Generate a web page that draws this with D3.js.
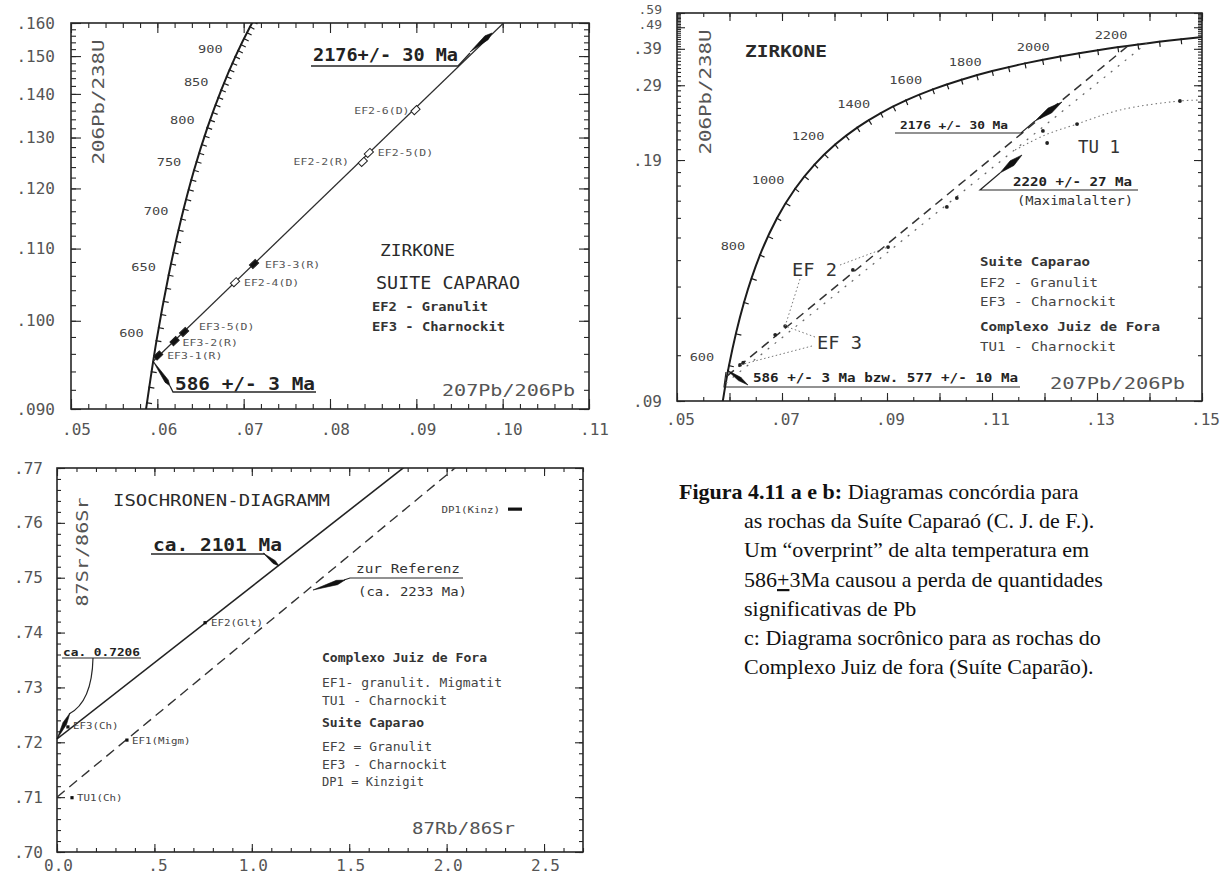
<!DOCTYPE html>
<html><head><meta charset="utf-8">
<script src="https://cdn.jsdelivr.net/npm/d3@7/dist/d3.min.js"></script>
<style>html,body{margin:0;padding:0;background:#fff}svg{display:block}</style>
</head><body>
<script>
// ================= DATA =================
// ---- Panel a : concordia, Suite Caparao ----
const aXTickValues=[0.05,0.06,0.07,0.08,0.09,0.10,0.11];
const aXTickLabels=[".05",".06",".07",".08",".09",".10",".11"];
const aYTickValues=[0.09,0.10,0.11,0.12,0.13,0.14,0.15,0.16];
const aYTickLabels=[".090",".100",".110",".120",".130",".140",".150",".160"];
const aConcAge=[550,600,650,700,750,800,850,900,950,1000];
const aConcPb76=[0.05854,0.05990,0.06131,0.06276,0.06425,0.06580,0.06740,0.06904,0.07074,0.07250];
const aConcPb68=[0.08906,0.09754,0.10609,0.11470,0.12338,0.13213,0.14094,0.14983,0.15878,0.16780];
const aAgeLabels=[600,650,700,750,800,850,900];
const aInterceptAge=[586,2176];
const aInterceptPb76=[0.05952,0.13593];
const aInterceptPb68=[0.09516,0.40151];
const aSampleName=["EF2-6(D)","EF2-2(R)","EF2-5(D)","EF3-3(R)","EF2-4(D)","EF3-5(D)","EF3-2(R)","EF3-1(R)"];
const aSamplePb76=[0.0899,0.0838,0.0845,0.0712,0.0690,0.0631,0.0620,0.0601];
const aSamplePb68=[0.1361,0.1250,0.1268,0.1077,0.1051,0.0986,0.0975,0.0958];
const aUpperErrPb76=[0.09622,0.09877], aUpperErrPb68=[0.15117,0.15684];
const aLowerErrPb76=[0.05950,0.06147], aLowerErrPb68=[0.09517,0.09240];

// ---- Panel b : concordia, Suite Caparao + Juiz de Fora ----
const bXTickValues=[0.05,0.07,0.09,0.11,0.13,0.15];
const bXTickLabels=[".05",".07",".09",".11",".13",".15"];
const bYTickValues=[0.09,0.19,0.29,0.39,0.49,0.59];
const bYTickLabels=[".09",".19",".29",".39",".49",".59"];
const bConcAge=[500,600,700,800,900,1000,1100,1200,1300,1400,1500,1600,1700,1800,1900,2000,2100,2200,2300,2400];
const bConcPb76=[0.05722,0.05990,0.06276,0.06580,0.06904,0.07250,0.07619,0.08012,0.08432,0.08881,0.09360,0.09872,0.10419,0.11004,0.11629,0.12299,0.13015,0.13782,0.14603,0.15483];
const bConcPb68=[0.08065,0.09754,0.11470,0.13213,0.14983,0.16780,0.18606,0.20460,0.22344,0.24256,0.26199,0.28172,0.30175,0.32211,0.34277,0.36377,0.38509,0.40674,0.42873,0.45107];
const bAgeLabels=[600,800,1000,1200,1400,1600,1800,2000,2200];
const bDisc1Pb76=[0.05952,0.13593], bDisc1Pb68=[0.09516,0.40151];   // 586 -> 2176 Ma
const bDisc2Pb76=[0.05927,0.13942], bDisc2Pb68=[0.09364,0.41111];   // 577 -> 2220 Ma
const bEFPb76=[0.0620,0.0626,0.0687,0.0706,0.0835,0.0902,0.1014,0.1033];
const bEFPb68=[0.0977,0.0982,0.1052,0.1076,0.1261,0.1356,0.1562,0.1617];
const bTUPb76=[0.1197,0.1205,0.1262,0.1458];
const bTUPb68=[0.2194,0.2062,0.2278,0.2611];
const bTUCurvePb76=[0.1144,0.1201,0.1262,0.1344,0.1458,0.1500];
const bTUCurvePb68=[0.1992,0.2148,0.2278,0.2470,0.2611,0.2627];
const bUp1ErrPb76=[0.11819,0.12333], bUp1ErrPb68=[0.2317,0.2594];
const bUp2ErrPb76=[0.11152,0.11571], bUp2ErrPb68=[0.1793,0.1945];
const bLowErrPb76=[0.05952,0.06352], bLowErrPb68=[0.09654,0.09327];

// ---- Panel c : Rb-Sr isochron ----
const cXTickValues=[0,0.5,1.0,1.5,2.0,2.5];
const cXTickLabels=["0.0",".5","1.0","1.5","2.0","2.5"];
const cYTickValues=[0.70,0.71,0.72,0.73,0.74,0.75,0.76,0.77];
const cYTickLabels=[".70",".71",".72",".73",".74",".75",".76",".77"];
const cIsoIntercept=[0.7206,0.7100];   // ca. 2101 Ma (solid), reference ca. 2233 Ma (dashed)
const cIsoSlope=[0.0278,0.02937];
const cSampleName=["EF2(Glt)","EF3(Ch)","EF1(Migm)","TU1(Ch)","DP1(Kinz)"];
const cSampleRb=[0.76,0.056,0.359,0.077,2.351];
const cSampleSr=[0.7418,0.7228,0.7204,0.7099,0.7625];
const c2101ErrRb=[1.0575,1.1396], c2101ErrSr=[0.75451,0.75214];
const cIntErrRb=[0.0667,0.0], cIntErrSr=[0.72534,0.72060];
const cRefErrRb=[1.478,1.314], cRefErrSr=[0.74958,0.74776];

// ================= DRAWING =================
const MONO="'DejaVu Sans Mono', monospace";
const INK="#262626", GRAY="#555";
const svg=d3.select("body").append("svg").attr("width",1228).attr("height",882);
svg.append("rect").attr("width",1228).attr("height",882).attr("fill","#fff");
const defs=svg.append("defs");

function T(g,x,y,s,o={}){
  const t=g.append("text").attr("x",x).attr("y",y).text(s)
    .attr("font-family",o.ff||MONO).attr("font-size",o.fs||12)
    .attr("font-weight",o.fw||"normal").attr("fill",o.fill||INK)
    .attr("dominant-baseline","central").attr("text-anchor",o.anchor||"start");
  if(o.w) t.attr("textLength",o.w).attr("lengthAdjust","spacingAndGlyphs");
  if(o.rot) t.attr("transform",`rotate(${o.rot},${x},${y})`);
  return t;
}
function L(g,pts,o={}){
  return g.append("path").attr("d",d3.line()(pts)).attr("fill","none")
    .attr("stroke",o.stroke||INK).attr("stroke-width",o.sw||1.2)
    .attr("stroke-dasharray",o.dash||null);
}
function leaf(g,A,B,w,f=0.7){
  const dx=B[0]-A[0],dy=B[1]-A[1],len=Math.hypot(dx,dy),nx=-dy/len,ny=dx/len;
  const m=[A[0]+dx*f,A[1]+dy*f];
  g.append("path").attr("d",`M${A[0]},${A[1]}L${m[0]+nx*w/2},${m[1]+ny*w/2}L${B[0]},${B[1]}L${m[0]-nx*w/2},${m[1]-ny*w/2}Z`)
   .attr("fill","#111").attr("stroke","#111").attr("stroke-width",0.6);
}
function clip(id,x0,y0,x1,y1){
  defs.append("clipPath").attr("id",id).append("rect").attr("x",x0).attr("y",y0).attr("width",x1-x0).attr("height",y1-y0);
}
function tickAxis(g,fn,scale,vals,len,tr){
  const a=g.append("g").attr("transform",tr).call(fn(scale).tickValues(vals).tickSize(-len).tickFormat(""));
  a.select(".domain").remove();
  a.selectAll("line").attr("stroke",INK).attr("stroke-width",1.1);
}
function labelAxis(g,fn,scale,vals,labels,tr,pad,dx){
  const a=g.append("g").attr("transform",tr).call(fn(scale).tickValues(vals).tickSize(0).tickPadding(pad).tickFormat((d,i)=>labels[i]));
  a.select(".domain").remove(); a.selectAll("line").remove();
  a.selectAll("text").attr("font-family",MONO).attr("font-size",16).attr("fill",GRAY)
    .attr("dx",(d,i)=>typeof dx==="function"?dx(labels[i]):dx);
  return a;
}
function frame(g,box,x,y,o){
  const {l,t,r,b}=box;
  tickAxis(g,d3.axisBottom,x,o.xMinor,o.minLen,`translate(0,${b})`);
  tickAxis(g,d3.axisBottom,x,o.xMajor,o.majLen,`translate(0,${b})`);
  tickAxis(g,d3.axisTop,x,o.xMinor,o.minLen,`translate(0,${t})`);
  tickAxis(g,d3.axisTop,x,o.xMajor,o.majLen,`translate(0,${t})`);
  tickAxis(g,d3.axisLeft,y,o.yMinor,o.minLen,`translate(${l},0)`);
  tickAxis(g,d3.axisLeft,y,o.yMajor,o.majLen,`translate(${l},0)`);
  tickAxis(g,d3.axisRight,y,o.yMinor,o.minLen,`translate(${r},0)`);
  tickAxis(g,d3.axisRight,y,o.yMajor,o.majLen,`translate(${r},0)`);
  g.append("rect").attr("x",l).attr("y",t).attr("width",r-l).attr("height",b-t)
    .attr("fill","none").attr("stroke",INK).attr("stroke-width",1.6);
}
function concordia(g,x,y,ages,p76,p68,step,clipId,labAges,off,labFs,labCw){
  const pts=ages.map((a,i)=>[x(p76[i]),y(p68[i])]);
  const cg=g.append("g").attr("clip-path",`url(#${clipId})`);
  cg.append("path").attr("d",d3.line().curve(d3.curveCatmullRom)(pts))
    .attr("fill","none").attr("stroke","#1c1c1c").attr("stroke-width",2);
  for(let i=0;i<pts.length-1;i++){
    const n=Math.round((ages[i+1]-ages[i])/step);
    const dx=pts[i+1][0]-pts[i][0],dy=pts[i+1][1]-pts[i][1],len=Math.hypot(dx,dy);
    const nx=-dy/len,ny=dx/len;
    for(let k=0;k<n;k++){
      const px=pts[i][0]+dx*k/n,py=pts[i][1]+dy*k/n;
      cg.append("line").attr("x1",px-nx).attr("y1",py-ny).attr("x2",px+nx*5).attr("y2",py+ny*5)
        .attr("stroke","#1c1c1c").attr("stroke-width",1.2);
    }
  }
  labAges.forEach(a=>{
    const i=ages.indexOf(a);
    const s=String(a);
    T(g,pts[i][0]+off[0],pts[i][1]+off[1],s,{fs:labFs,anchor:"middle",fill:"#444",w:s.length*labCw});
  });
}

// ---------------- Panel a ----------------
{
  const g=svg.append("g");
  const box={l:71,t:23,r:589,b:409};
  const x=d3.scaleLinear().domain([0.05,0.11]).range([box.l,box.r]);
  const y=d3.scalePow().exponent(-1).domain([0.09,0.16]).range([box.b,box.t]);
  clip("clipA",box.l,box.t,box.r,box.b);
  frame(g,box,x,y,{
    xMinor:d3.range(50,111,2).map(v=>v/1000), xMajor:aXTickValues,
    yMinor:d3.range(90,161,2).map(v=>v/1000), yMajor:aYTickValues, minLen:5, majLen:10});
  labelAxis(g,d3.axisBottom,x,aXTickValues,aXTickLabels,`translate(0,${box.b})`,15,5);
  labelAxis(g,d3.axisLeft,y,aYTickValues,aYTickLabels,`translate(${box.l},0)`,16,0);

  concordia(g,x,y,aConcAge,aConcPb76,aConcPb68,10,"clipA",aAgeLabels,[-25,-8],10.5,8.2);

  const P0=[x(aInterceptPb76[0]),y(aInterceptPb68[0])],P1=[x(aInterceptPb76[1]),y(aInterceptPb68[1])];
  const dg=g.append("g").attr("clip-path","url(#clipA)");
  L(dg,[P0,P1],{sw:1.3,stroke:"#2e2e2e"});
  const ang=Math.atan2(P1[1]-P0[1],P1[0]-P0[0])*180/Math.PI;

  leaf(dg,[x(aUpperErrPb76[0]),y(aUpperErrPb68[0])],[x(aUpperErrPb76[1]),y(aUpperErrPb68[1])],5,0.75);
  leaf(g,[x(aLowerErrPb76[0]),y(aLowerErrPb68[0])],[x(aLowerErrPb76[1]),y(aLowerErrPb68[1])],4,0.8);
  T(g,313,55,"2176+/- 30 Ma",{fs:17,fw:"bold",w:145,fill:"#222"});
  L(g,[[311,66],[458,66],[470,53]],{sw:1.3});
  T(g,175,383,"586 +/- 3 Ma",{fs:18,fw:"bold",w:140,fill:"#222"});
  L(g,[[170,386],[173,392],[316,392]],{sw:1.3});

  const offs={"EF2-6(D)":[-6,0,"end"],"EF2-2(R)":[-14,0,"end"],"EF2-5(D)":[9,0,"start"],"EF3-3(R)":[11,0,"start"],
    "EF2-4(D)":[9,0,"start"],"EF3-5(D)":[15,-6,"start"],"EF3-2(R)":[8,1,"start"],"EF3-1(R)":[9,0,"start"]};
  aSampleName.forEach((nm,i)=>{
    const px=x(aSamplePb76[i]),py=y(aSamplePb68[i]);
    const filled=nm.startsWith("EF3");
    g.append("rect").attr("x",-2.5).attr("y",-4).attr("width",5).attr("height",8)
      .attr("transform",`translate(${px},${py}) rotate(${ang+90})`)
      .attr("fill",filled?"#111":"#fff").attr("stroke","#222").attr("stroke-width",1);
    const o=offs[nm];
    T(g,px+o[0],py+o[1],nm,{fs:9.5,anchor:o[2],fill:"#555",w:nm.length*6.9});
  });

  T(g,380,251,"ZIRKONE",{fs:15,w:75,fill:"#2a2a2a"});
  T(g,376,283,"SUITE CAPARAO",{fs:17,w:144,fill:"#2a2a2a"});
  T(g,372,307,"EF2 - Granulit",{fs:12,fw:"bold",w:116,fill:"#333"});
  T(g,372,327,"EF3 - Charnockit",{fs:12,fw:"bold",w:133,fill:"#333"});
  T(g,442,390,"207Pb/206Pb",{fs:16,w:133,fill:GRAY});
  T(g,98,102,"206Pb/238U",{fs:16,w:125,fill:GRAY,anchor:"middle",rot:-90});
}

// ---------------- Panel b ----------------
{
  const g=svg.append("g");
  const box={l:677,t:13,r:1202,b:401};
  const x=d3.scaleLinear().domain([0.05,0.15]).range([box.l,box.r]);
  const y=d3.scalePow().exponent(-1).domain([0.09,0.59]).range([box.b,box.t]);
  clip("clipB",box.l,box.t,box.r,box.b);
  frame(g,box,x,y,{
    xMinor:d3.range(50,151,5).map(v=>v/1000), xMajor:d3.range(5,16).map(v=>v/100),
    yMinor:d3.range(9,60).map(v=>v/100), yMajor:bYTickValues, minLen:4, majLen:8});
  labelAxis(g,d3.axisBottom,x,bXTickValues,bXTickLabels,`translate(0,${box.b})`,13,3);
  const ya=labelAxis(g,d3.axisLeft,y,bYTickValues,bYTickLabels,`translate(${box.l},0)`,15,0);
  // the two top labels sit very close together (squeezed reciprocal scale)
  ya.selectAll("text").filter(d=>d>0.5).attr("font-size",13).attr("y",-4);
  ya.selectAll("text").filter(d=>d>0.45&&d<0.5).attr("font-size",13).attr("y",-3);

  concordia(g,x,y,bConcAge,bConcPb76,bConcPb68,50,"clipB",bAgeLabels,[-27,-9],10.5,8.2);

  const dg=g.append("g").attr("clip-path","url(#clipB)");
  L(dg,[[x(bDisc1Pb76[0]),y(bDisc1Pb68[0])],[x(bDisc1Pb76[1]),y(bDisc1Pb68[1])]],{sw:1.5,dash:"9,6",stroke:"#333"});
  L(dg,[[x(bDisc2Pb76[0]),y(bDisc2Pb68[0])],[x(bDisc2Pb76[1]),y(bDisc2Pb68[1])]],{sw:1.2,dash:"2,7",stroke:"#666"});
  dg.append("path").attr("d",d3.line().curve(d3.curveCatmullRom)(bTUCurvePb76.map((v,i)=>[x(v),y(bTUCurvePb68[i])])))
    .attr("fill","none").attr("stroke","#777").attr("stroke-width",1.1).attr("stroke-dasharray","1.5,3");

  const EF=bEFPb76.map((v,i)=>[x(v),y(bEFPb68[i])]);
  EF.forEach(p=>g.append("circle").attr("cx",p[0]).attr("cy",p[1]).attr("r",1.9).attr("fill","#222"));
  bTUPb76.forEach((v,i)=>g.append("circle").attr("cx",x(v)).attr("cy",y(bTUPb68[i])).attr("r",1.9).attr("fill","#222"));

  const dot={sw:1,dash:"1.5,2.5",stroke:"#777"};
  L(g,[[840,265],EF[5]],dot); L(g,[[800,279],EF[3]],dot);
  L(g,[[815,337],EF[3]],dot); L(g,[[812,346],EF[0]],dot);
  T(g,792,270,"EF 2",{fs:17,w:45,fill:"#333"});
  T(g,817,343,"EF 3",{fs:17,w:45,fill:"#333"});
  T(g,1078,147,"TU 1",{fs:17,w:42,fill:"#333"});

  leaf(g,[x(bUp1ErrPb76[0]),y(bUp1ErrPb68[0])],[x(bUp1ErrPb76[1]),y(bUp1ErrPb68[1])],6,0.55);
  T(g,900,125,"2176 +/- 30 Ma",{fs:11,fw:"bold",w:108,fill:"#222"});
  L(g,[[895,133],[1021,133],[1035,121]],{sw:1.2});
  leaf(g,[x(bUp2ErrPb76[0]),y(bUp2ErrPb68[0])],[x(bUp2ErrPb76[1]),y(bUp2ErrPb68[1])],6,0.55);
  T(g,1013,182,"2220 +/- 27 Ma",{fs:12,fw:"bold",w:119,fill:"#222"});
  T(g,1017,201,"(Maximalalter)",{fs:12,w:116,fill:"#333"});
  L(g,[[1138,190],[980,190],[1000,173]],{sw:1.2});
  leaf(g,[x(bLowErrPb76[0]),y(bLowErrPb68[0])],[x(bLowErrPb76[1]),y(bLowErrPb68[1])],4,0.6);
  T(g,753,378,"586 +/- 3 Ma bzw. 577 +/- 10 Ma",{fs:12,fw:"bold",w:265,fill:"#222"});
  L(g,[[726,372],[724,387],[1020,387]],{sw:1.2});

  T(g,745,52,"ZIRKONE",{fs:15,fw:"bold",w:82,fill:"#2a2a2a"});
  T(g,980,262,"Suite Caparao",{fs:12,fw:"bold",w:110,fill:"#333"});
  T(g,980,283,"EF2 - Granulit",{fs:12,w:118,fill:"#444"});
  T(g,980,302,"EF3 - Charnockit",{fs:12,w:136,fill:"#444"});
  T(g,980,327,"Complexo Juiz de Fora",{fs:12,fw:"bold",w:180,fill:"#333"});
  T(g,980,347,"TU1 - Charnockit",{fs:12,w:136,fill:"#444"});
  T(g,1050,383,"207Pb/206Pb",{fs:16,w:135,fill:GRAY});
  T(g,705,92,"206Pb/238U",{fs:16,w:125,fill:GRAY,anchor:"middle",rot:-90});
}

// ---------------- Panel c ----------------
{
  const g=svg.append("g");
  const box={l:57,t:468,r:583,b:852};
  const x=d3.scaleLinear().domain([0,2.7]).range([box.l,box.r]);
  const y=d3.scaleLinear().domain([0.70,0.77]).range([box.b,box.t]);
  clip("clipC",box.l,box.t,box.r,box.b);
  frame(g,box,x,y,{
    xMinor:d3.range(0,28).map(v=>v/10), xMajor:cXTickValues,
    yMinor:d3.range(700,771,2).map(v=>v/1000), yMajor:cYTickValues, minLen:4, majLen:8});
  labelAxis(g,d3.axisBottom,x,cXTickValues,cXTickLabels,`translate(0,${box.b})`,8,s=>s[0]==="."?3:1);
  labelAxis(g,d3.axisLeft,y,cYTickValues,cYTickLabels,`translate(${box.l},0)`,14,0);

  const dg=g.append("g").attr("clip-path","url(#clipC)");
  const iso=i=>[[x(0),y(cIsoIntercept[i])],[x(2.7),y(cIsoIntercept[i]+cIsoSlope[i]*2.7)]];
  L(dg,iso(0),{sw:1.6,stroke:"#222"});
  L(dg,iso(1),{sw:1.4,dash:"10,6",stroke:"#333"});

  const offs={"EF2(Glt)":[6,0,"start"],"EF3(Ch)":[5,-1,"start"],"EF1(Migm)":[5,0,"start"],"TU1(Ch)":[5,0,"start"],"DP1(Kinz)":[-15,0,"end"]};
  cSampleName.forEach((nm,i)=>{
    const px=x(cSampleRb[i]),py=y(cSampleSr[i]);
    if(nm.startsWith("DP1")) g.append("rect").attr("x",px-7).attr("y",py-1.6).attr("width",14).attr("height",3.2).attr("fill","#111");
    else g.append("rect").attr("x",px-1.6).attr("y",py-1.6).attr("width",3.2).attr("height",3.2).attr("fill","#111");
    const o=offs[nm];
    T(g,px+o[0],py+o[1],nm,{fs:9.5,anchor:o[2],fill:"#444",w:nm.length*6.5});
  });

  leaf(g,[x(c2101ErrRb[0]),y(c2101ErrSr[0])],[x(c2101ErrRb[1]),y(c2101ErrSr[1])],3.5,0.7);
  T(g,153,545,"ca. 2101 Ma",{fs:17,fw:"bold",w:129,fill:"#222"});
  L(g,[[151,554],[265,554]],{sw:1.3});
  leaf(g,[x(cIntErrRb[0]),y(cIntErrSr[0])],[x(cIntErrRb[1]),y(cIntErrSr[1])],4,0.4);
  T(g,63,652,"ca. 0.7206",{fs:11,fw:"bold",w:77,fill:"#222"});
  L(g,[[62,658],[141,658]],{sw:1.2});
  g.append("path").attr("d","M93,658Q92,702 69,714").attr("fill","none").attr("stroke",INK).attr("stroke-width",1.2);
  leaf(g,[x(cRefErrRb[1]),y(cRefErrSr[1])],[x(cRefErrRb[0]),y(cRefErrSr[0])],4.5,0.75);
  T(g,356,569,"zur Referenz",{fs:12,w:104,fill:"#333"});
  T(g,358,592,"(ca. 2233 Ma)",{fs:12,w:109,fill:"#333"});
  L(g,[[344,580],[350,578],[463,578]],{sw:1.2});

  T(g,113,500,"ISOCHRONEN-DIAGRAMM",{fs:16,w:217,fill:"#2a2a2a"});
  T(g,82,552,"87Sr/86Sr",{fs:16,w:109,fill:GRAY,anchor:"middle",rot:-90});
  T(g,412,828,"87Rb/86Sr",{fs:16,w:103,fill:GRAY});
  const lg=[["Complexo Juiz de Fora",658,true,165],["EF1- granulit. Migmatit",683,false,180],["TU1 - Charnockit",701,false,125],
    ["Suite Caparao",723,true,102],["EF2 = Granulit",747,false,110],["EF3 - Charnockit",765,false,125],["DP1 = Kinzigit",782,false,102]];
  lg.forEach(r=>T(g,322,r[1],r[0],{fs:11.5,fw:r[2]?"bold":"normal",w:r[3],fill:r[2]?"#333":"#444"}));
}

// ---------------- Caption ----------------
{
  const g=svg.append("g").attr("font-family","'Liberation Serif','Times New Roman',serif").attr("font-size",22).attr("fill","#111");
  const t1=g.append("text").attr("x",679).attr("y",499);
  t1.append("tspan").attr("font-weight","bold").text("Figura 4.11 a e b:");
  t1.append("tspan").text(" Diagramas concórdia para");
  g.append("text").attr("x",744).attr("y",528).text("as rochas da Suíte Caparaó (C. J. de F.).");
  g.append("text").attr("x",744).attr("y",557).text("Um “overprint” de alta temperatura em");
  const t4=g.append("text").attr("x",744).attr("y",587);
  t4.append("tspan").text("586");
  t4.append("tspan").attr("text-decoration","underline").style("text-decoration","underline").text("+");
  t4.append("tspan").text("3Ma causou a perda de quantidades");
  g.append("text").attr("x",744).attr("y",616).text("significativas de Pb");
  g.append("text").attr("x",744).attr("y",645).text("c: Diagrama socrônico para as rochas do");
  g.append("text").attr("x",744).attr("y",674).text("Complexo Juiz de fora (Suíte Caparão).");
}
</script>
</body></html>
